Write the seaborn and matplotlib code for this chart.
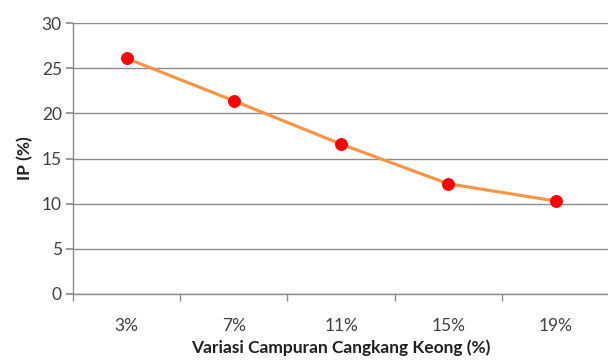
import numpy as np
import pandas as pd
import seaborn as sns
import matplotlib.pyplot as plt
from matplotlib.ticker import FixedLocator

# data
variasi = ["3%", "7%", "11%", "15%", "19%"]
ip_values = [26.1, 21.4, 16.6, 12.2, 10.3]

df = pd.DataFrame({"pos": np.arange(len(variasi)), "IP": ip_values})

sns.set_theme(style="white")
plt.rcParams['font.family'] = ['Lato', 'DejaVu Sans']

fig = plt.figure(figsize=(6.08, 3.62), dpi=100)
ax = fig.add_axes([0.12, 0.188, 0.882, 0.748])

sns.lineplot(
    data=df,
    x="pos",
    y="IP",
    color="#F79646",
    linewidth=2.3,
    marker="o",
    markersize=8.5,
    markerfacecolor="#FF0000",
    markeredgecolor="#FF0000",
    ax=ax,
)

ax.set_ylim(0, 30)
ax.set_yticks(range(0, 31, 5))
ax.set_xlim(-0.5, len(variasi) - 0.5)
ax.set_xticks(df["pos"])
ax.set_xticklabels(variasi)
ax.xaxis.set_minor_locator(FixedLocator(np.arange(-0.5, len(variasi), 1.0)))

ax.yaxis.grid(True, color="#8C8C8C", linewidth=1)
ax.xaxis.grid(False)
ax.set_axisbelow(True)

for side in ["top", "right"]:
    ax.spines[side].set_visible(False)
for side in ["left", "bottom"]:
    ax.spines[side].set_color("#8C8C8C")
    ax.spines[side].set_linewidth(1)

ax.tick_params(axis="y", which="major", left=True, length=5, color="#8C8C8C",
               labelsize=12.5, labelcolor="#404040", pad=3)
ax.tick_params(axis="x", which="major", bottom=False, labelsize=12.5,
               labelcolor="#404040", pad=11)
ax.tick_params(axis="x", which="minor", bottom=True, length=5, color="#8C8C8C")

ax.set_xlabel("Variasi Campuran Cangkang Keong (%)", fontsize=12.5,
              fontweight="bold", color="#202020", labelpad=4)
ax.set_ylabel("IP (%)", fontsize=12.5, fontweight="bold", color="#202020",
              labelpad=6)

fig.savefig("out.png", dpi=100)
